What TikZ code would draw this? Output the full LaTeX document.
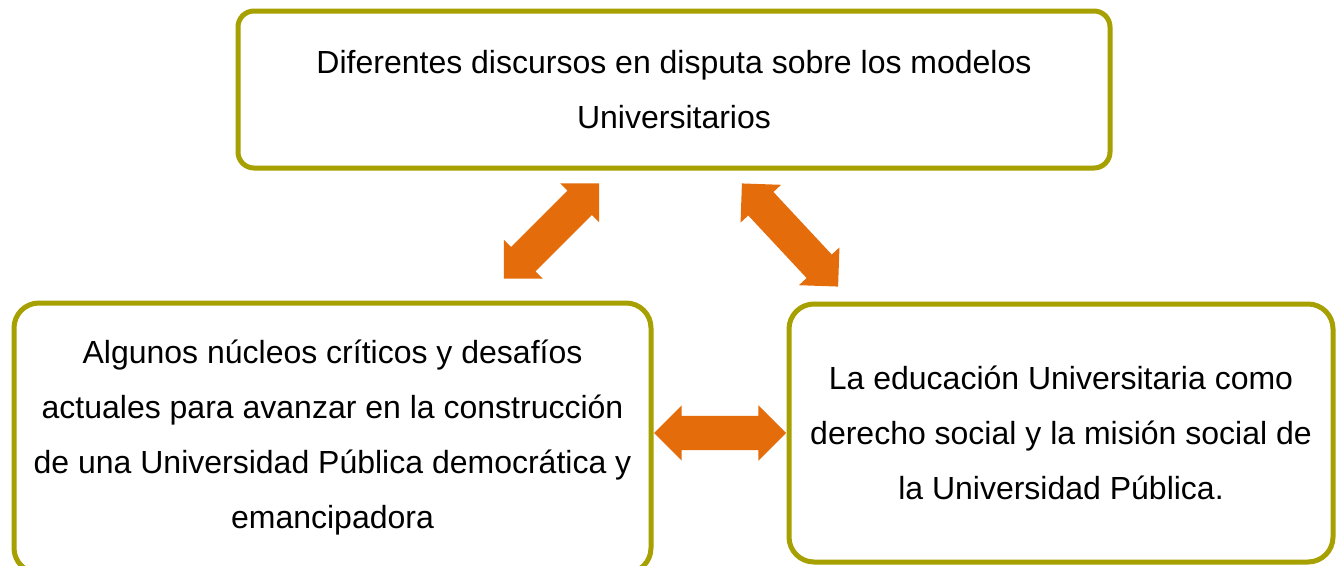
\documentclass[tikz,border=0pt]{standalone}
\usepackage{fontspec}
\setmainfont{Liberation Sans}
\usetikzlibrary{shapes.arrows}

\definecolor{boxolive}{RGB}{166,161,0}
\definecolor{arroworange}{RGB}{228,108,10}

\begin{document}
\begin{tikzpicture}[x=1pt,y=-1pt,
  box/.style={draw=boxolive,line width=5pt,fill=white,align=center,
    font=\fontsize{32}{55}\selectfont},
  dblarrow/.style={double arrow,fill=arroworange,draw=none,inner xsep=0pt,inner ysep=17pt,
    double arrow head extend=10.5pt,double arrow tip angle=90}]
  %\draw[step=50,gray,very thin] (0,0) grid (1340,565);
  \useasboundingbox (0,0) rectangle (1340,565);
  \fill[white] (0,0) rectangle (1340,565);

  % the three boxes
  \node[box,rounded corners=16pt,minimum width=872pt,minimum height=157pt] (modelos) at (674,89.5)
    {Diferentes discursos en disputa sobre los modelos\\Universitarios};
  \node[box,rounded corners=25pt,minimum width=637pt,minimum height=270pt] (nucleos) at (332.5,438)
    {Algunos núcleos críticos y desafíos\\actuales para avanzar en la construcción\\de una Universidad Pública democrática y\\emancipadora};
  \node[box,rounded corners=25pt,minimum width=544pt,minimum height=258pt] (derecho) at (1061,433)
    {La educación Universitaria como\\derecho social y la misión social de\\la Universidad Pública.};

  % block arrows
  \node[dblarrow,minimum height=135pt,rotate=45] (arrowleft) at (551.5,231) {};
  \node[dblarrow,minimum height=141pt,rotate=-47] (arrowright) at (790,235) {};
  \node[dblarrow,minimum height=132pt] (arrowmid) at (720,433) {};

\end{tikzpicture}
\end{document}
